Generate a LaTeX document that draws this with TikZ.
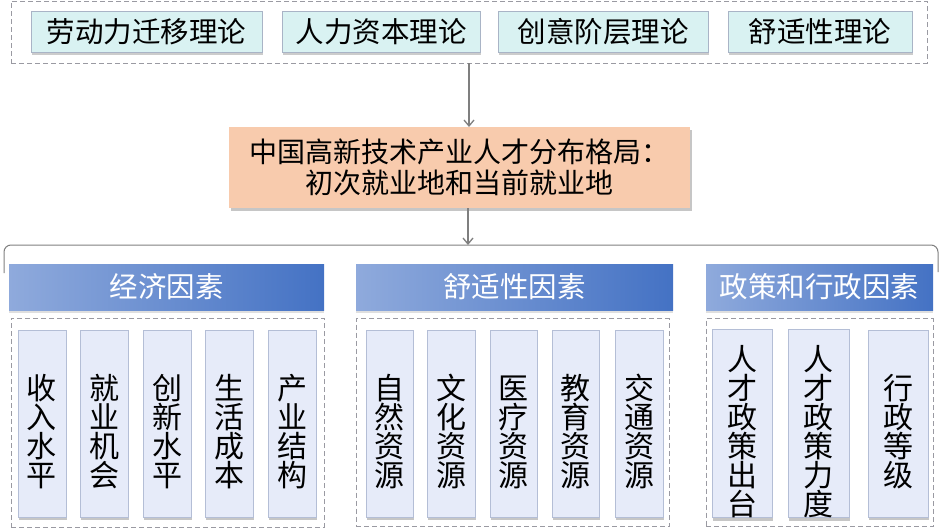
\documentclass[tikz,border=0pt]{standalone}
\usepackage{fontspec}
\setmainfont{Noto Sans CJK SC}
\usepackage{tikz}
\usetikzlibrary{shadows}
\usetikzlibrary{arrows.meta}
\definecolor{theoryfill}{HTML}{D9F2F2}
\definecolor{theoryline}{HTML}{A9B4C6}
\definecolor{hubfill}{HTML}{F8CBAD}
\definecolor{headleft}{HTML}{8FAADC}
\definecolor{headright}{HTML}{4472C4}
\definecolor{factorfill}{HTML}{E6EBF9}
\definecolor{factorline}{HTML}{B4BED6}
\definecolor{dashgray}{HTML}{9A9AA2}
\definecolor{linkgray}{HTML}{7F7F7F}
\tikzstyle{every node}=[inner sep=0pt,outer sep=0pt]
\tikzstyle{group}=[draw=dashgray,dashed,dash pattern=on 5pt off 3pt,line width=0.9pt]
\tikzstyle{theory}=[draw=theoryline,fill=theoryfill,line width=0.8pt,minimum height=41pt,
  font=\fontsize{28.5}{30}\selectfont,drop shadow={opacity=0.4,shadow xshift=1pt,shadow yshift=-3pt}]
\tikzstyle{hub}=[fill=hubfill,minimum width=461pt,minimum height=81pt,align=center,
  font=\fontsize{28}{31}\selectfont,drop shadow={opacity=0.45,shadow xshift=1.5pt,shadow yshift=-3pt}]
\tikzstyle{head}=[shading=axis,left color=headleft,right color=headright,minimum height=46pt,
  text=white,font=\fontsize{28.5}{30}\selectfont,drop shadow={opacity=0.25,shadow xshift=0pt,shadow yshift=-3pt}]
\tikzstyle{factor}=[draw=factorline,fill=factorfill,line width=0.8pt,minimum height=187pt,align=center,
  font=\fontsize{30}{29}\selectfont,
  drop shadow={opacity=0.45,shadow xshift=1pt,shadow yshift=-3pt}]
\tikzstyle{link}=[draw=linkgray,line width=1.3pt,-{Straight Barb[length=6pt,width=10pt]}]
\tikzstyle{bracket}=[draw=linkgray,line width=1pt,rounded corners=7pt]
\newcommand{\textdrop}{\rule{0pt}{41pt}}

\begin{document}
\begin{tikzpicture}[x=1pt,y=-1pt]
  \useasboundingbox (0,0) rectangle (946,528);
  % theories
  \node [group,minimum width=916pt,minimum height=62pt] (theories) at (469,32) {};
  \node [theory,minimum width=231pt] (labour) at (146.5,31.5) {劳动力迁移理论};
  \node [theory,minimum width=198pt] (human) at (381,31.5) {人力资本理论};
  \node [theory,minimum width=210pt] (creative) at (603,31.5) {创意阶层理论};
  \node [theory,minimum width=184pt] (amenity) at (820,31.5) {舒适性理论};
  % pattern
  \node [hub] (pattern) at (459.5,167.5) {中国高新技术产业人才分布格局：\\初次就业地和当前就业地};
  \coordinate (brace) at (468,245);
  \coordinate (braceL) at (4,273);
  \coordinate (braceR) at (938,272);
  \draw [link] (theories.south) -- (theories.south |- pattern.north);
  \draw [link] (pattern.south -| brace) -- (brace);
  \draw [bracket] (braceL) -- (braceL |- brace) -- (braceR |- brace) -- (braceR);
  % factor heads
  \node [head,minimum width=315pt] (econ) at (166.5,287) {经济因素};
  \node [head,minimum width=317pt] (comfort) at (514.5,287) {舒适性因素};
  \node [head,minimum width=227pt] (policy) at (819.5,287) {政策和行政因素};
  % factor groups
  \node [group,minimum width=313pt,minimum height=209pt] (econgroup) at (167.5,422.5) {};
  \node [group,minimum width=313pt,minimum height=208pt] (comfortgroup) at (512.5,422.5) {};
  \node [group,minimum width=227pt,minimum height=208pt] (policygroup) at (819.5,422.5) {};
  % economic
  \node [factor,minimum width=48pt] (income) at (42,423.5) {\textdrop 收\\入\\水\\平};
  \node [factor,minimum width=48pt] (jobs) at (104,423.5) {\textdrop 就\\业\\机\\会};
  \node [factor,minimum width=48pt] (innovation) at (167,423.5) {\textdrop 创\\新\\水\\平};
  \node [factor,minimum width=48pt] (living) at (229,423.5) {\textdrop 生\\活\\成\\本};
  \node [factor,minimum width=48pt] (industry) at (292,423.5) {\textdrop 产\\业\\结\\构};
  % amenity
  \node [factor,minimum width=47pt] (nature) at (389.5,423.5) {\textdrop 自\\然\\资\\源};
  \node [factor,minimum width=48pt] (culture) at (451,423.5) {\textdrop 文\\化\\资\\源};
  \node [factor,minimum width=47pt] (medical) at (513.5,423.5) {\textdrop 医\\疗\\资\\源};
  \node [factor,minimum width=47pt] (education) at (575.5,423.5) {\textdrop 教\\育\\资\\源};
  \node [factor,minimum width=48pt] (transport) at (639,423.5) {\textdrop 交\\通\\资\\源};
  % policy
  \node [factor,minimum width=60pt] (launch) at (742,423.5) {\textdrop 人\\才\\政\\策\\出\\台};
  \node [factor,minimum width=61pt] (strength) at (818.5,423.5) {\textdrop 人\\才\\政\\策\\力\\度};
  \node [factor,minimum width=60pt] (rank) at (898,423.5) {\textdrop 行\\政\\等\\级};
\end{tikzpicture}
\end{document}
